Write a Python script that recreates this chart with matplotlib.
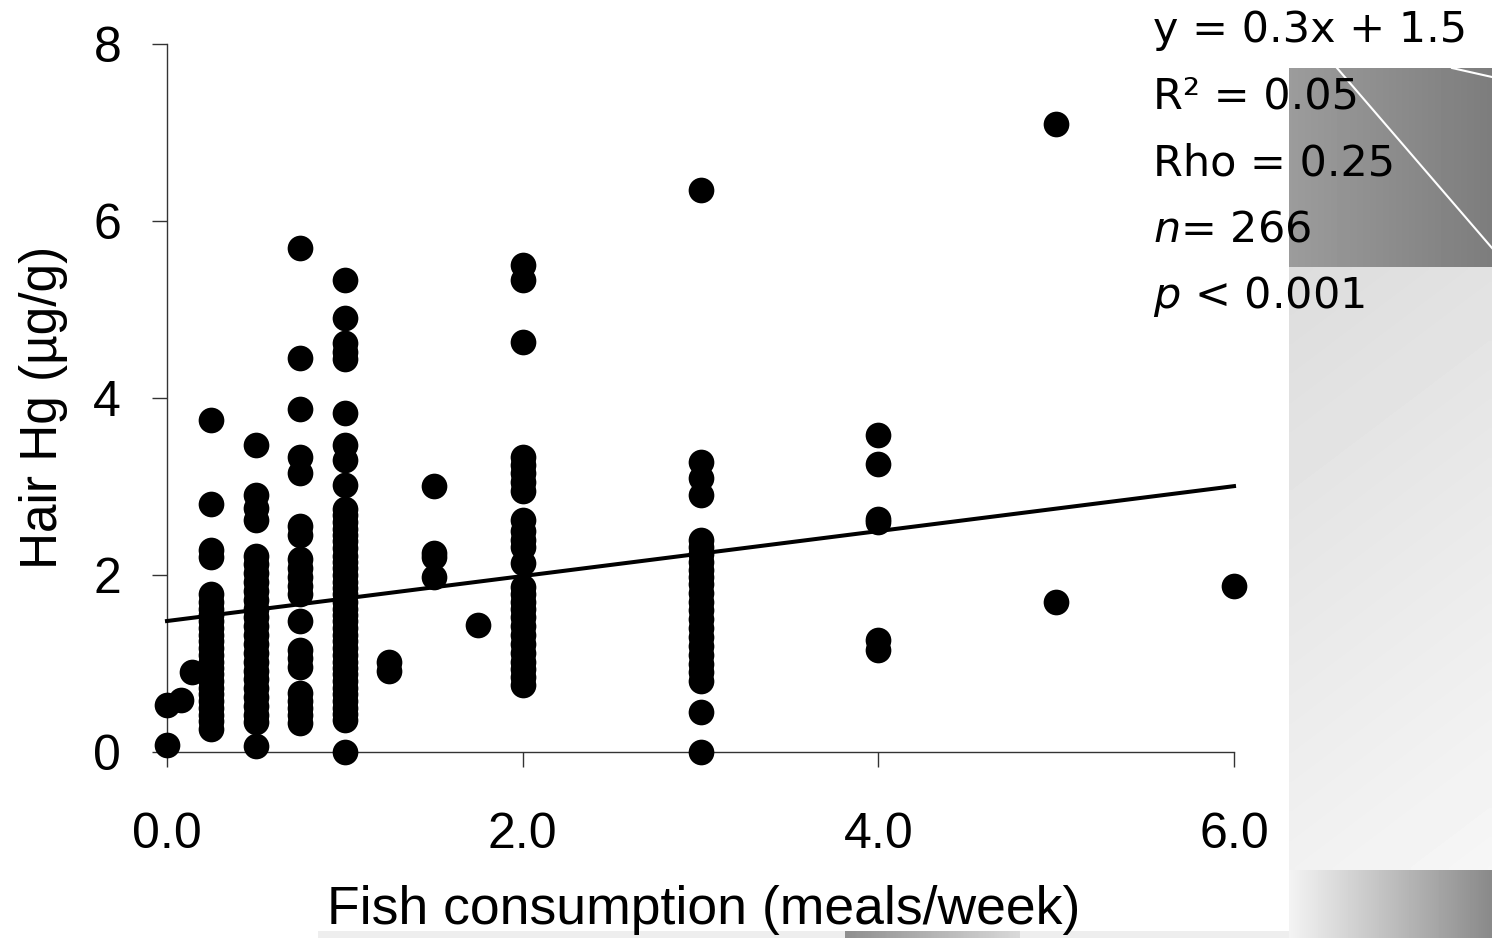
import numpy as np
import matplotlib
matplotlib.use("Agg")
import matplotlib.pyplot as plt

# --- Hair mercury vs. fish meals per week (one list per consumption level) ---
hg_0_00 = [0.08, 0.53]
hg_0_08 = [0.59]
hg_0_14 = [0.90]
hg_0_25 = [3.75, 2.80, 2.28, 2.20, 1.78, 1.70, 1.62, 1.55, 1.48, 1.40, 1.32, 1.25,
           1.18, 1.10, 1.02, 0.95, 0.88, 0.80, 0.72, 0.65, 0.58, 0.50, 0.42, 0.35, 0.26]
hg_0_50 = [3.47, 2.90, 2.76, 2.62, 2.22, 2.12, 2.02, 1.92, 1.82, 1.72, 1.62, 1.52,
           1.42, 1.32, 1.22, 1.12, 1.02, 0.92, 0.82, 0.72, 0.62, 0.52, 0.42, 0.34, 0.07]
hg_0_75 = [5.70, 4.45, 3.88, 3.33, 3.15, 2.55, 2.45, 2.18, 2.08, 1.98, 1.88, 1.78,
           1.48, 1.15, 1.06, 0.96, 0.67, 0.58, 0.50, 0.42, 0.33]
hg_1_00 = [5.33, 4.90, 4.62, 4.52, 4.44, 3.83, 3.47, 3.30, 3.02, 2.75, 2.68, 2.60,
           2.52, 2.45, 2.38, 2.30, 2.22, 2.15, 2.08, 2.00, 1.92, 1.85, 1.78, 1.70,
           1.62, 1.55, 1.48, 1.40, 1.32, 1.25, 1.18, 1.10, 1.02, 0.95, 0.88, 0.80,
           0.72, 0.65, 0.58, 0.50, 0.43, 0.36, 0.00]
hg_1_25 = [1.02, 0.92]
hg_1_50 = [3.00, 2.25, 2.20, 1.98]
hg_1_75 = [1.43]
hg_2_00 = [5.50, 5.33, 4.63, 3.33, 3.24, 3.15, 3.05, 2.95, 2.62, 2.50, 2.40, 2.32,
           2.13, 1.87, 1.78, 1.70, 1.62, 1.52, 1.42, 1.32, 1.22, 1.12, 1.02, 0.94,
           0.85, 0.76]
hg_3_00 = [6.35, 3.28, 3.10, 2.90, 2.40, 2.32, 2.24, 2.15, 2.06, 1.98, 1.90, 1.80,
           1.70, 1.60, 1.50, 1.40, 1.30, 1.20, 1.10, 1.00, 0.90, 0.80, 0.45, 0.00]
hg_4_00 = [3.58, 3.25, 2.63, 2.60, 1.27, 1.15]
hg_5_00 = [7.10, 1.70]
hg_6_00 = [1.88]

meals = [0.0, 0.08, 0.14, 0.25, 0.5, 0.75, 1.0, 1.25, 1.5, 1.75, 2.0, 3.0, 4.0, 5.0, 6.0]
groups = [hg_0_00, hg_0_08, hg_0_14, hg_0_25, hg_0_50, hg_0_75, hg_1_00, hg_1_25,
          hg_1_50, hg_1_75, hg_2_00, hg_3_00, hg_4_00, hg_5_00, hg_6_00]

# regression line
slope = 0.254
intercept = 1.48
r2 = 0.05
rho = 0.25
n_obs = 266

x_ticks = [0, 2, 4, 6]
x_ticklabels = ["0.0", "2.0", "4.0", "6.0"]
y_ticks = [0, 2, 4, 6, 8]

x = np.concatenate([np.full(len(g), m) for m, g in zip(meals, groups)])
y = np.concatenate([np.asarray(g, dtype=float) for g in groups])

W, H = 1492, 938
fig = plt.figure(figsize=(W / 100, H / 100), dpi=100)
fig.patch.set_facecolor("white")

# --- slide background panels behind the chart ---
bg = fig.add_axes([0, 0, 1, 1], zorder=0)
bg.set_xlim(0, W)
bg.set_ylim(H, 0)
bg.axis("off")

def hgrad(x0, x1, y0, y1, c0, c1):
    g = np.linspace(c0, c1, 64)[None, :]
    bg.imshow(g, extent=(x0, x1, y1, y0), cmap="gray", vmin=0, vmax=1,
              aspect="auto", interpolation="bilinear")

# dark panel (top right)
hgrad(1289, W, 68, 267, 0.61, 0.49)
bg.plot([1337, W], [68, 248], color="white", lw=1.5)
bg.plot([1452, W], [68, 77], color="white", lw=1.5)
# light panel with a diagonal gradient
yy, xx = np.mgrid[0:1:120j, 0:1:40j]
light = 0.865 + 0.10 * (0.8 * yy + 0.2 * xx)
bg.imshow(light, extent=(1289, W, 870, 267), cmap="gray", vmin=0, vmax=1,
          aspect="auto", interpolation="bilinear")
# bottom right strip
hgrad(1289, W, 870, H, 0.95, 0.54)
# thin strip along the bottom edge
hgrad(318, 845, 931, H, 0.93, 0.93)
hgrad(845, 1020, 931, H, 0.56, 0.85)
hgrad(1020, 1289, 931, H, 0.93, 0.93)

# --- main scatter ---
ax = fig.add_axes([167 / W, 1 - 752 / H, (1234 - 167) / W, (752 - 44) / H], zorder=1)
ax.patch.set_alpha(0)
ax.plot(x, y, "o", color="black", ms=18.5, mec="black", mew=0, clip_on=False, zorder=3)
xl = np.array([0, 6])
ax.plot(xl, intercept + slope * xl, color="black", lw=2.9, zorder=4, clip_on=False)

ax.set_xlim(0, 6)
ax.set_ylim(0, 8)
for s in ["top", "right"]:
    ax.spines[s].set_visible(False)
for s in ["left", "bottom"]:
    ax.spines[s].set_linewidth(1.0)
    ax.spines[s].set_color("#333333")
ax.set_xticks(x_ticks)
ax.set_xticklabels(x_ticklabels)
ax.set_yticks(y_ticks)
ax.tick_params(axis="both", length=11, width=1.0, color="#333333",
               labelsize=36, direction="out")
ax.tick_params(axis="x", pad=32)
ax.tick_params(axis="y", pad=22)
for lab in ax.get_xticklabels() + ax.get_yticklabels():
    lab.set_fontfamily("Liberation Sans")

fig.text(704 / W, 1 - 924 / H, "Fish consumption (meals/week)", ha="center",
         va="baseline", fontsize=38.5, family="Liberation Sans")
fig.text(44 / W, 1 - 407 / H, "Hair Hg (µg/g)", rotation=90, ha="center",
         va="center", fontsize=37, family="Liberation Sans")

# --- fit statistics ---
stats = [
    f"y = {slope:.1f}x + {intercept:.1f}",
    f"R² = {r2:.2f}",
    f"Rho = {rho:.2f}",
    f"$n$= {n_obs}",
    "$p$ < 0.001",
]
for i, s in enumerate(stats):
    fig.text(1153 / W, 1 - (42 + 66.6 * i) / H, s, ha="left", va="baseline",
             fontsize=31, family="DejaVu Sans", zorder=5)

fig.savefig("out.png", dpi=100)
